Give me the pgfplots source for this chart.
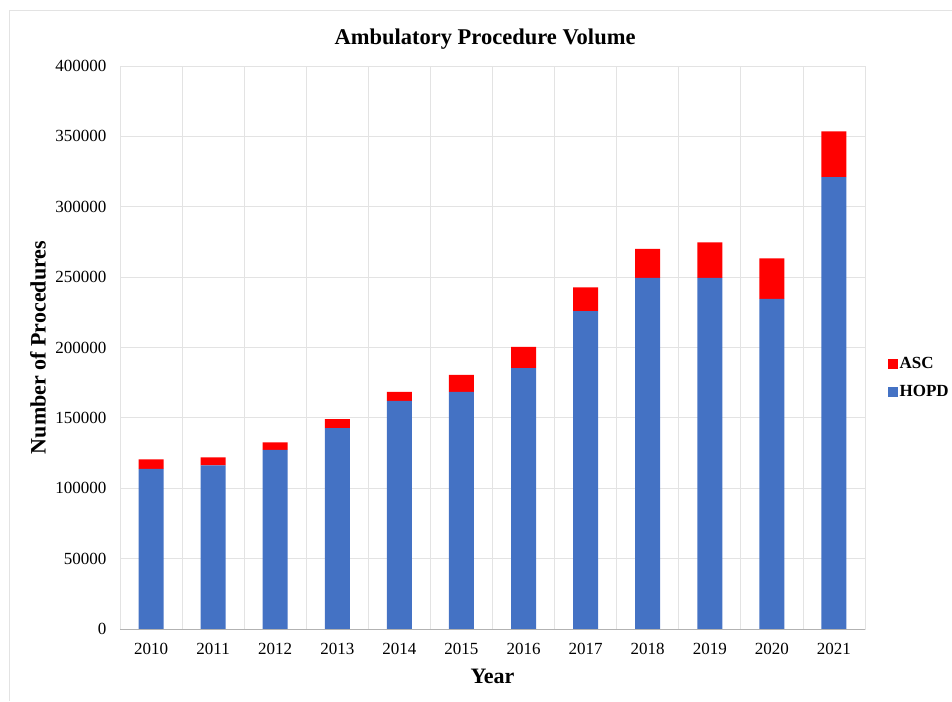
\documentclass[border=0pt]{standalone}
\usepackage{pgfplots}
\pgfplotsset{compat=1.18}
\usepackage{pgfplotstable}
\usepackage{fontspec}
\setmainfont{Liberation Serif}
\definecolor{hopd}{HTML}{4472C4}
\definecolor{asc}{HTML}{FF0000}
\definecolor{gridc}{HTML}{E3E3E3}
\pgfplotstableread{
x HOPD ASC
0 113700 6900
1 116300 5700
2 127200 5400
3 142800 6400
4 162000 6400
5 168400 12100
6 185400 15000
7 225900 16900
8 249400 20600
9 249400 25300
10 234500 28900
11 321100 32500
}\datatab
\begin{document}
\begin{tikzpicture}[x=1pt,y=1pt]
\useasboundingbox (-120,-72) rectangle (832,629);
\draw[gridc,line width=1pt] (-110,-72) -- (-110,618) -- (832,618);
\begin{axis}[
  at={(0,0)}, anchor=south west,
  scale only axis, width=745pt, height=563pt,
  ybar stacked, bar width=25pt,
  xmin=-0.5, xmax=11.5, ymin=0, ymax=400000,
  xtick={0,...,11},
  xticklabels={2010,2011,2012,2013,2014,2015,2016,2017,2018,2019,2020,2021},
  minor xtick={-0.5,0.5,...,11.5},
  xminorgrids, ymajorgrids,
  ytick={0,50000,100000,150000,200000,250000,300000,350000,400000},
  yticklabels={0,50000,100000,150000,200000,250000,300000,350000,400000},
  scaled y ticks=false,
  major tick length=0pt, minor tick length=0pt,
  grid style={gridc, line width=0.8pt},
  minor grid style={gridc, line width=0.8pt},
  axis line style={gridc, line width=0.8pt},
  tick label style={font=\fontsize{17}{19}\selectfont, black},
  xticklabel style={yshift=-11pt},
  yticklabel style={xshift=-10pt},
  title={\textbf{Ambulatory Procedure Volume}},
  title style={font=\fontsize{22.5}{25}\selectfont, at={(0.49,1)}, anchor=center, yshift=21pt},
  xlabel={\textbf{Year}},
  xlabel style={font=\fontsize{22}{24}\selectfont, at={(0.5,0)}, anchor=center, yshift=-47pt},
  ylabel={\textbf{Number of Procedures}},
  ylabel style={font=\fontsize{22}{24}\selectfont, at={(0,0.5)}, anchor=center, yshift=82pt},
  legend style={draw=none, fill=none, at={(1.026,0.446)}, anchor=west,
    font=\fontsize{17}{19}\selectfont\bfseries, row sep=11pt},
  legend cell align=left,
  reverse legend,
  legend image code/.code={\fill (0pt,-5pt) rectangle (10pt,5pt);},
]
\addplot[fill=hopd, draw=none] table[x=x, y=HOPD] {\datatab};
\addplot[fill=asc, draw=none] table[x=x, y=ASC] {\datatab};
\legend{HOPD,ASC}
\end{axis}
\draw[gray!60, line width=0.8pt] (0,0) -- (745,0);
\end{tikzpicture}
\end{document}
